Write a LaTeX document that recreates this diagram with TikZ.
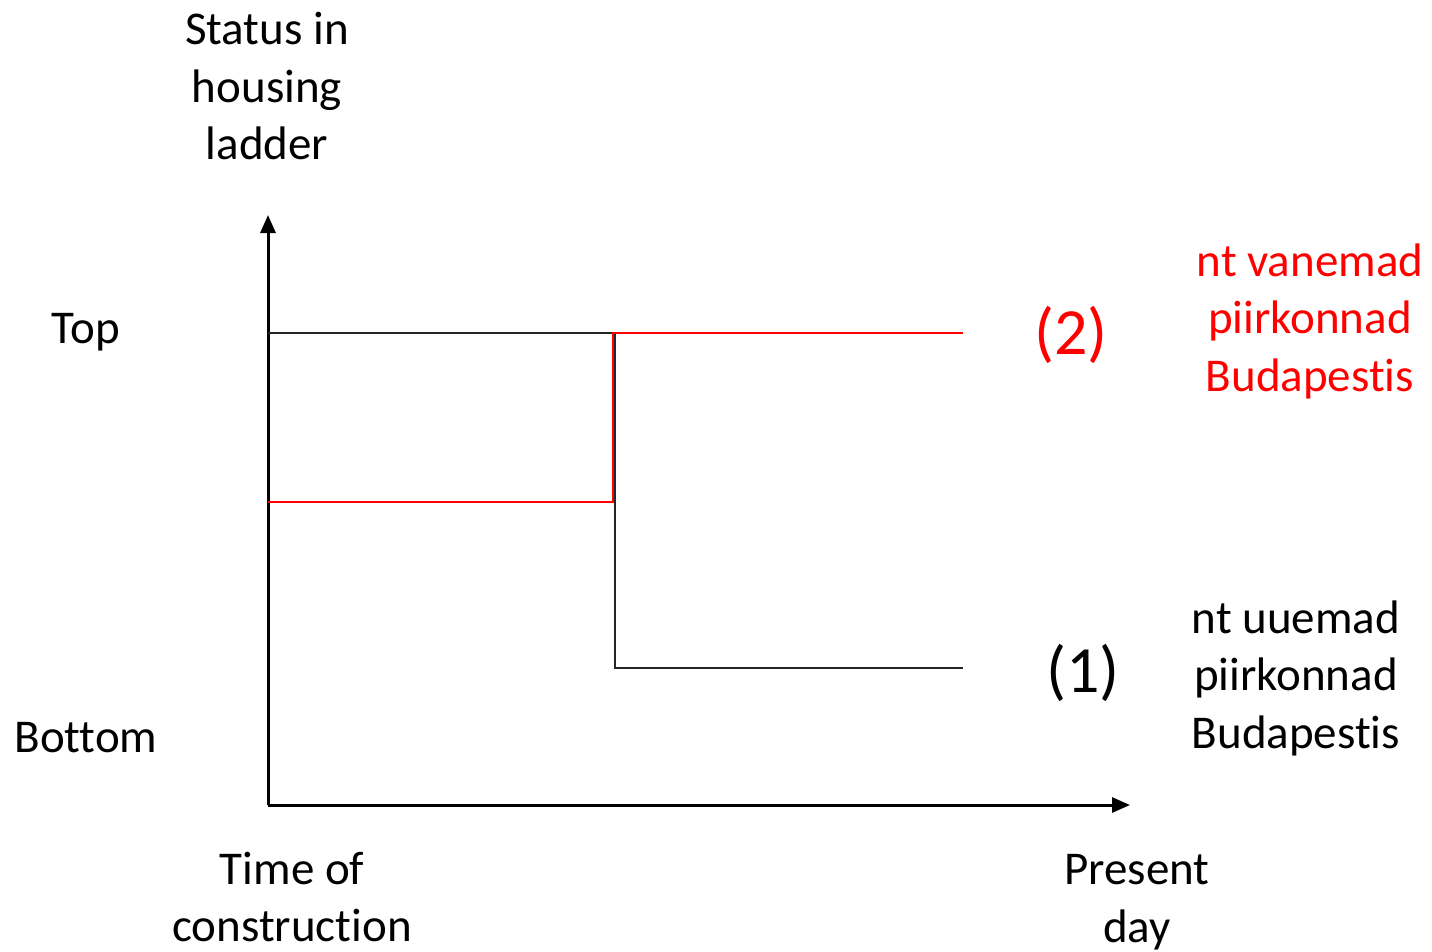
\documentclass[tikz,border=0pt]{standalone}
\usepackage{fontspec}
\setmainfont[RawFeature={-liga;-clig;-calt;-dlig}]{Carlito}
\usepackage{tikz}
\usetikzlibrary{arrows.meta,positioning}
\tikzset{
  axis/.style  = {-{Triangle[length=18pt,width=15pt]}, line width=3pt},
  path1/.style = {line width=2pt, black!85},
  path2/.style = {line width=2pt, red},
  lbl/.style   = {font=\fontsize{47}{57.5}\selectfont, align=center, inner sep=0pt},
  num/.style   = {font=\fontsize{66}{75}\selectfont, inner sep=0pt},
}

\begin{document}
\begin{tikzpicture}[x=1pt,y=-1pt]
  \useasboundingbox (0,0) rectangle (1432,951);
  % axes
  \coordinate (o) at (268,805);
  \coordinate (ytip) at (268,215);
  \coordinate (xtip) at (1130,805);
  \draw[axis] (o) -- (ytip);
  \draw[axis] (o) -- (xtip);
  % housing paths
  \coordinate (a1) at (268,333);  \coordinate (b1) at (615,333);
  \coordinate (c1) at (615,668);  \coordinate (d1) at (963,668);
  \coordinate (a2) at (268,502);  \coordinate (b2) at (613,502);
  \coordinate (c2) at (613,333);  \coordinate (d2) at (963,333);
  \draw[path1] (a1) -- (b1) -- (c1) -- (d1);
  \draw[path2] (a2) -- (b2) -- (c2) -- (d2);
  % labels
  \node[lbl] (ylab) at (267,86) {Status in\\housing\\ladder};
  \node[lbl] (top) at (86,332) {Top};
  \node[lbl] (bottom) at (86,738) {Bottom};
  \node[lbl] (start) at (292,897) {Time of\\construction};
  \node[lbl] (now) at (1137,902) {Present\\day};
  \node[num,red] (n2) at (1071,335) {(2)};
  \node[num] (n1) at (1083,673) {(1)};
  \node[lbl,red] (old) at (1310,321) {nt vanemad\\piirkonnad\\Budapestis};
  \node[lbl] (new) at (1296,678) {nt uuemad\\piirkonnad\\Budapestis};
\end{tikzpicture}
\end{document}
